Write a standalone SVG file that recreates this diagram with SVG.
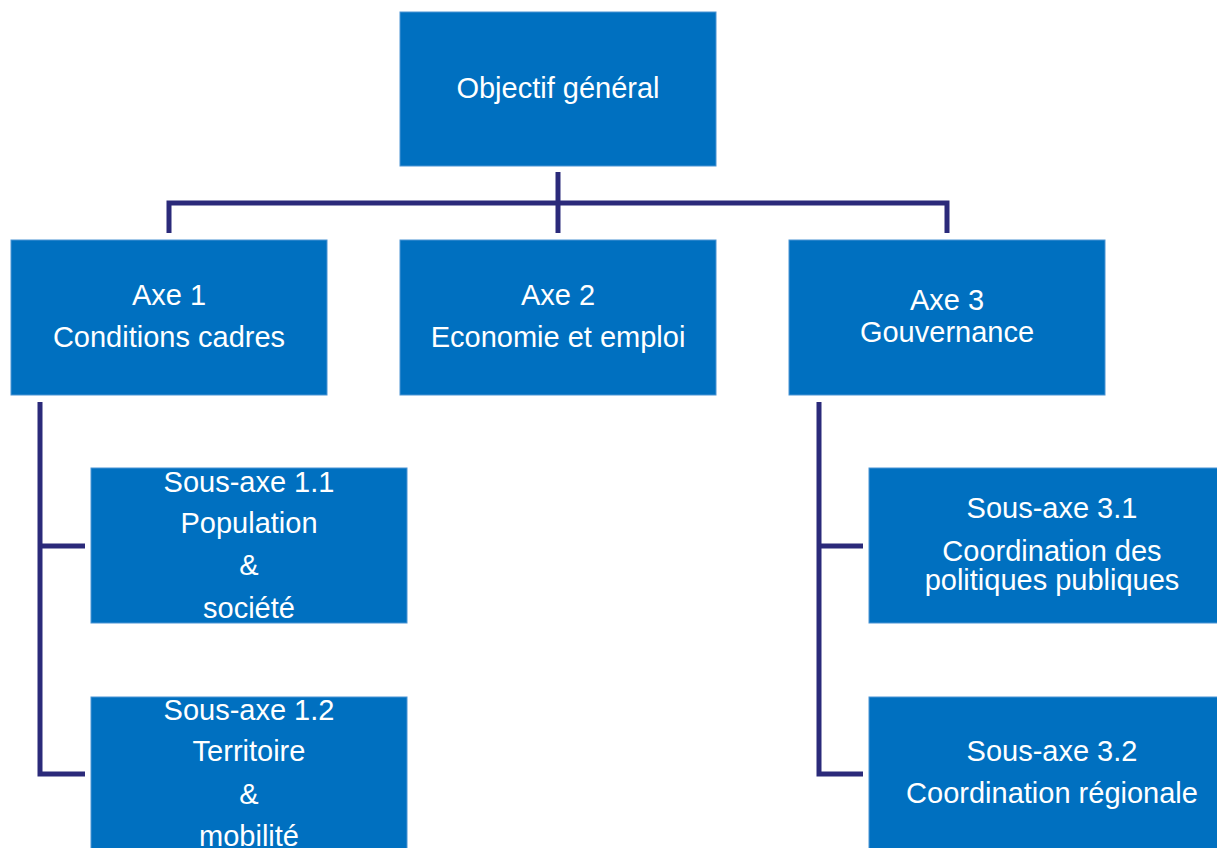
<svg xmlns="http://www.w3.org/2000/svg" width="1217" height="848" viewBox="0 0 1217 848">
<style>
.box{fill:#0070C0;stroke:#4A94D4;stroke-width:1}
.t{font-family:"Liberation Sans",Arial,sans-serif;font-size:29px;fill:#FFFFFF;text-anchor:middle}
.c{fill:none;stroke:#2B2A7A;stroke-width:5;stroke-linejoin:miter;stroke-linecap:butt}
</style>
<rect width="1217" height="848" fill="#FFFFFF"/>
<g id="connectors">
<path class="c" d="M558 172 V233"/>
<path class="c" d="M169 233 V203 H947 V233"/>
<path class="c" d="M85 546 H40 M40 402 V774 H85"/>
<path class="c" d="M863 546 H819 M819 402 V774 H863"/>
</g>
<g id="objectif">
<rect class="box" x="400" y="12" width="316" height="154"/>
<text class="t" x="558" y="98">Objectif général</text>
</g>
<g id="axe1">
<rect class="box" x="11" y="240" width="316" height="155"/>
<text class="t" x="169" y="305">Axe 1</text>
<text class="t" x="169" y="347">Conditions cadres</text>
</g>
<g id="axe2">
<rect class="box" x="400" y="240" width="316" height="155"/>
<text class="t" x="558" y="305">Axe 2</text>
<text class="t" x="558" y="347">Economie et emploi</text>
</g>
<g id="axe3">
<rect class="box" x="789" y="240" width="316" height="155"/>
<text class="t" x="947" y="310">Axe 3</text>
<text class="t" x="947" y="342">Gouvernance</text>
</g>
<g id="sousaxe11">
<rect class="box" x="91" y="468" width="316" height="155"/>
<text class="t" x="249" y="492">Sous-axe 1.1</text>
<text class="t" x="249" y="533">Population</text>
<text class="t" x="249" y="575">&amp;</text>
<text class="t" x="249" y="618">société</text>
</g>
<g id="sousaxe12">
<rect class="box" x="91" y="697" width="316" height="160"/>
<text class="t" x="249" y="720">Sous-axe 1.2</text>
<text class="t" x="249" y="761">Territoire</text>
<text class="t" x="249" y="804">&amp;</text>
<text class="t" x="249" y="846">mobilité</text>
</g>
<g id="sousaxe31">
<rect class="box" x="869" y="468" width="366" height="155"/>
<text class="t" x="1052" y="518">Sous-axe 3.1</text>
<text class="t" x="1052" y="561">Coordination des</text>
<text class="t" x="1052" y="590">politiques publiques</text>
</g>
<g id="sousaxe32">
<rect class="box" x="869" y="697" width="366" height="160"/>
<text class="t" x="1052" y="761">Sous-axe 3.2</text>
<text class="t" x="1052" y="803">Coordination régionale</text>
</g>
</svg>
